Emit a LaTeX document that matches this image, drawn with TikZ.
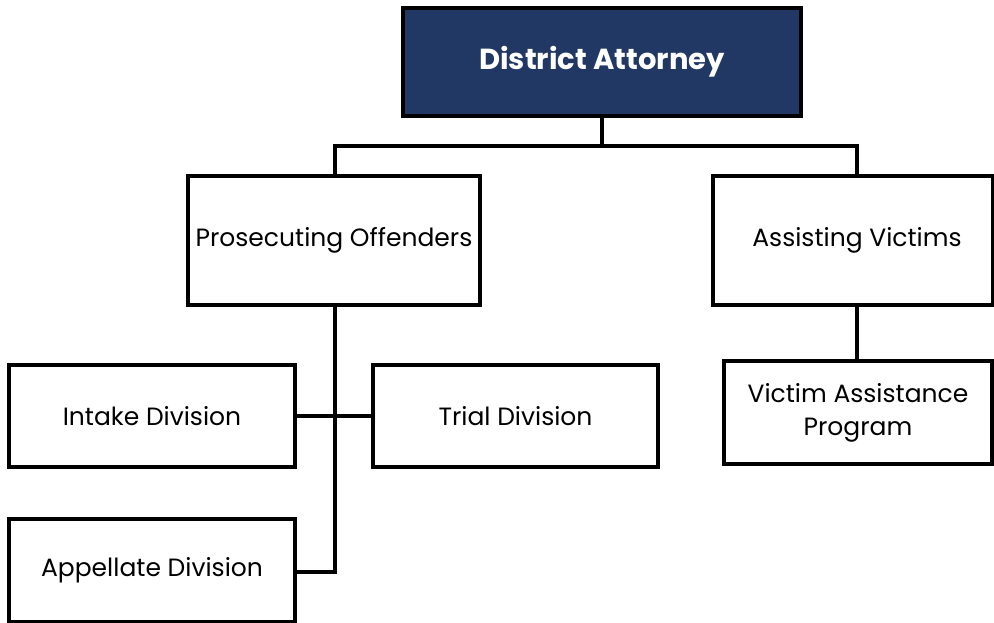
\documentclass[tikz,border=0pt]{standalone}
\usepackage{fontspec}
\setmainfont{Poppins}
\begin{document}
\begin{tikzpicture}[x=1pt,y=-1pt,
  box/.style={draw=black,line width=3.2pt,fill=white,rectangle,inner sep=0pt,align=center,
    font=\fontsize{25}{33}\selectfont},
  head/.style={box,fill=navy,text=white,font=\fontsize{29}{32}\selectfont\bfseries},
  link/.style={draw=black,line width=3.2pt}]
\definecolor{navy}{HTML}{213764}
\useasboundingbox (0,0) rectangle (994,623);
\node[head,minimum width=398pt,minimum height=108pt] (da) at (602,62) {District Attorney};
\node[box,minimum width=292pt,minimum height=129pt] (po) at (334,240.5) {Prosecuting Offenders};
\node[box,minimum width=280pt,minimum height=129pt] (av) at (853,240.5) {\hspace*{8pt}Assisting Victims};
\node[box,minimum width=286pt,minimum height=102pt] (id) at (152,416) {Intake Division};
\node[box,minimum width=285pt,minimum height=102pt] (td) at (515.5,416) {Trial Division};
\node[box,minimum width=286pt,minimum height=103pt] (ad) at (152,570.5) {Appellate Division};
\node[box,minimum width=268pt,minimum height=103pt] (va) at (858,412.5) {Victim Assistance\\Program};
\coordinate (split) at (602,146);
\draw[link] (da.south) -- (split);
\draw[link] (po.north -| 335,0) |- (split) -| (av.north -| 857,0);
\draw[link] (po.south -| 335,0) -- (335,572) -- (ad.east |- 335,572);
\draw[link] (id.east) -- (td.west);
\draw[link] (av.south -| 857,0) -- (va.north -| 857,0);
\end{tikzpicture}
\end{document}
